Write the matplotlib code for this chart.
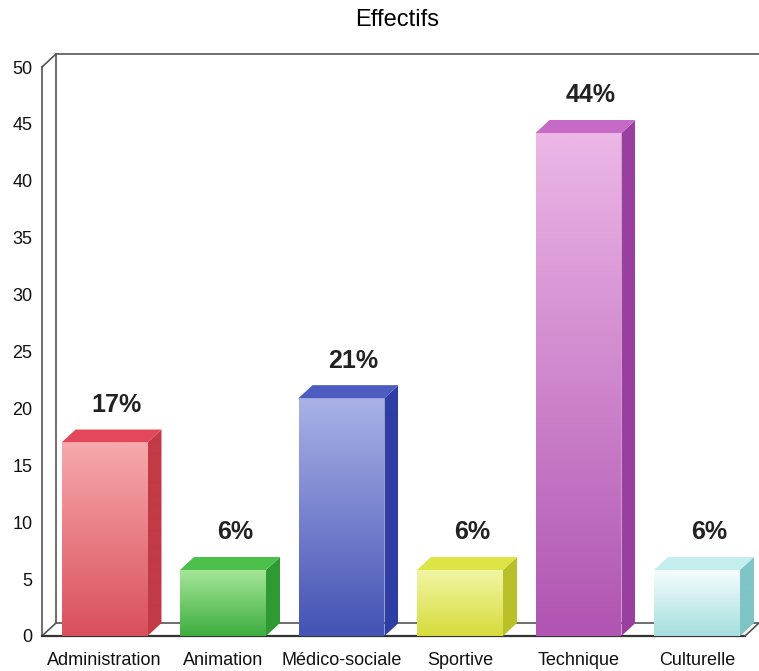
import matplotlib.pyplot as plt
import numpy as np
from matplotlib.patches import Polygon
from matplotlib.colors import to_rgb

plt.rcParams['font.family'] = ['Liberation Sans', 'DejaVu Sans']

categories = ['Administration', 'Animation', 'Médico-sociale', 'Sportive', 'Technique', 'Culturelle']
values = [17.0, 5.8, 20.9, 5.8, 44.2, 5.8]
pct_labels = ['17%', '6%', '21%', '6%', '44%', '6%']

# face colours: front top, front bottom, side, top
front_top = ['#f7a9ab', '#a6e69a', '#a9b1e6', '#f2f6a6', '#ecb6e6', '#f6fdfd']
front_bot = ['#d9505c', '#3fae3f', '#4453b4', '#d6dc3c', '#b055b2', '#a6dede']
side_col = ['#c23a46', '#2f9a34', '#2f3ea4', '#b9c02a', '#9a3f9e', '#7fc4c6']
top_col = ['#e2485a', '#4cc04a', '#4d5cc0', '#dde445', '#c66ac8', '#c4eeee']

W, H = 759, 671
fig = plt.figure(figsize=(W / 100, H / 100), dpi=100)
# front plane of the chart box, in pixels
x0, x1 = 42, 759
y0, y1 = 636, 67
ax = fig.add_axes([x0 / W, 1 - y0 / H, (x1 - x0) / W, (y0 - y1) / H])

step = 118.5                 # pixels per category
xmin = -(104.5 - x0) / step
xmax = xmin + (x1 - x0) / step
ymax = 50
ppu = (y0 - y1) / ymax       # pixels per unit
dx = 14 / step
dy = 13 / ppu
w = 86 / step

ax.set_xlim(xmin, xmax)
ax.set_ylim(0, ymax)
for s in ax.spines.values():
    s.set_visible(False)

# box: left wall, back wall, floor
lc = '#555555'
kw = dict(color=lc, lw=1.2, clip_on=False, zorder=1)
ax.plot([xmin, xmin], [0, ymax], **kw)
ax.plot([xmin, xmin + dx], [ymax, ymax + dy], **kw)
ax.plot([xmin + dx, xmin + dx], [dy, ymax + dy], **kw)
ax.plot([xmin + dx, xmax], [ymax + dy, ymax + dy], **kw)
ax.plot([xmin, xmin + dx], [0, dy], **kw)
ax.plot([xmin + dx, xmax], [dy, dy], **kw)
ax.plot([xmin, xmax - dx], [0, 0], color='#333333', lw=1.6, clip_on=False, zorder=1)
ax.plot([xmax - dx, xmax], [0, dy], **kw)


def grad(c_top, c_bot, n=64):
    t = np.linspace(0, 1, n)[:, None]
    a, b = np.array(to_rgb(c_top)), np.array(to_rgb(c_bot))
    return (a * (1 - t) + b * t)[:, None, :]


for i, v in enumerate(values):
    l, r = i - w / 2, i + w / 2
    front = Polygon([(l, 0), (r, 0), (r, v), (l, v)], closed=True,
                    fc='none', ec='none', zorder=3)
    ax.add_patch(front)
    im = ax.imshow(grad(front_top[i], front_bot[i]), extent=[l, r, 0, v],
                   aspect='auto', origin='upper', zorder=3, interpolation='bilinear')
    im.set_clip_path(front)
    side = Polygon([(r, 0), (r + dx, dy), (r + dx, v + dy), (r, v)], closed=True,
                   fc='none', ec='none', zorder=3)
    ax.add_patch(side)
    im2 = ax.imshow(grad(side_col[i], side_col[i]), extent=[r, r + dx, 0, v + dy],
                    aspect='auto', origin='upper', zorder=3)
    im2.set_clip_path(side)
    ax.add_patch(Polygon([(l, v), (r, v), (r + dx, v + dy), (l + dx, v + dy)],
                         closed=True, fc=top_col[i], ec='none', zorder=3))
    ax.text(i + 0.1, v + 3.3, pct_labels[i], ha='center', va='center',
            fontsize=18, fontweight='bold', color='#222222', zorder=4)

ax.set_xlim(xmin, xmax)
ax.set_ylim(0, ymax)
ax.set_yticks(np.arange(0, 51, 5))
ax.set_xticks(range(len(categories)))
ax.set_xticklabels(categories, va='baseline')
ax.tick_params(axis='both', length=0, labelsize=13, colors='#111111')
ax.tick_params(axis='y', pad=7)
ax.tick_params(axis='x', pad=29 * 0.72)

fig.text(397 / W, 1 - 20 / H, 'Effectifs', ha='center', va='center', fontsize=17)

fig.savefig('out.png', dpi=100)
